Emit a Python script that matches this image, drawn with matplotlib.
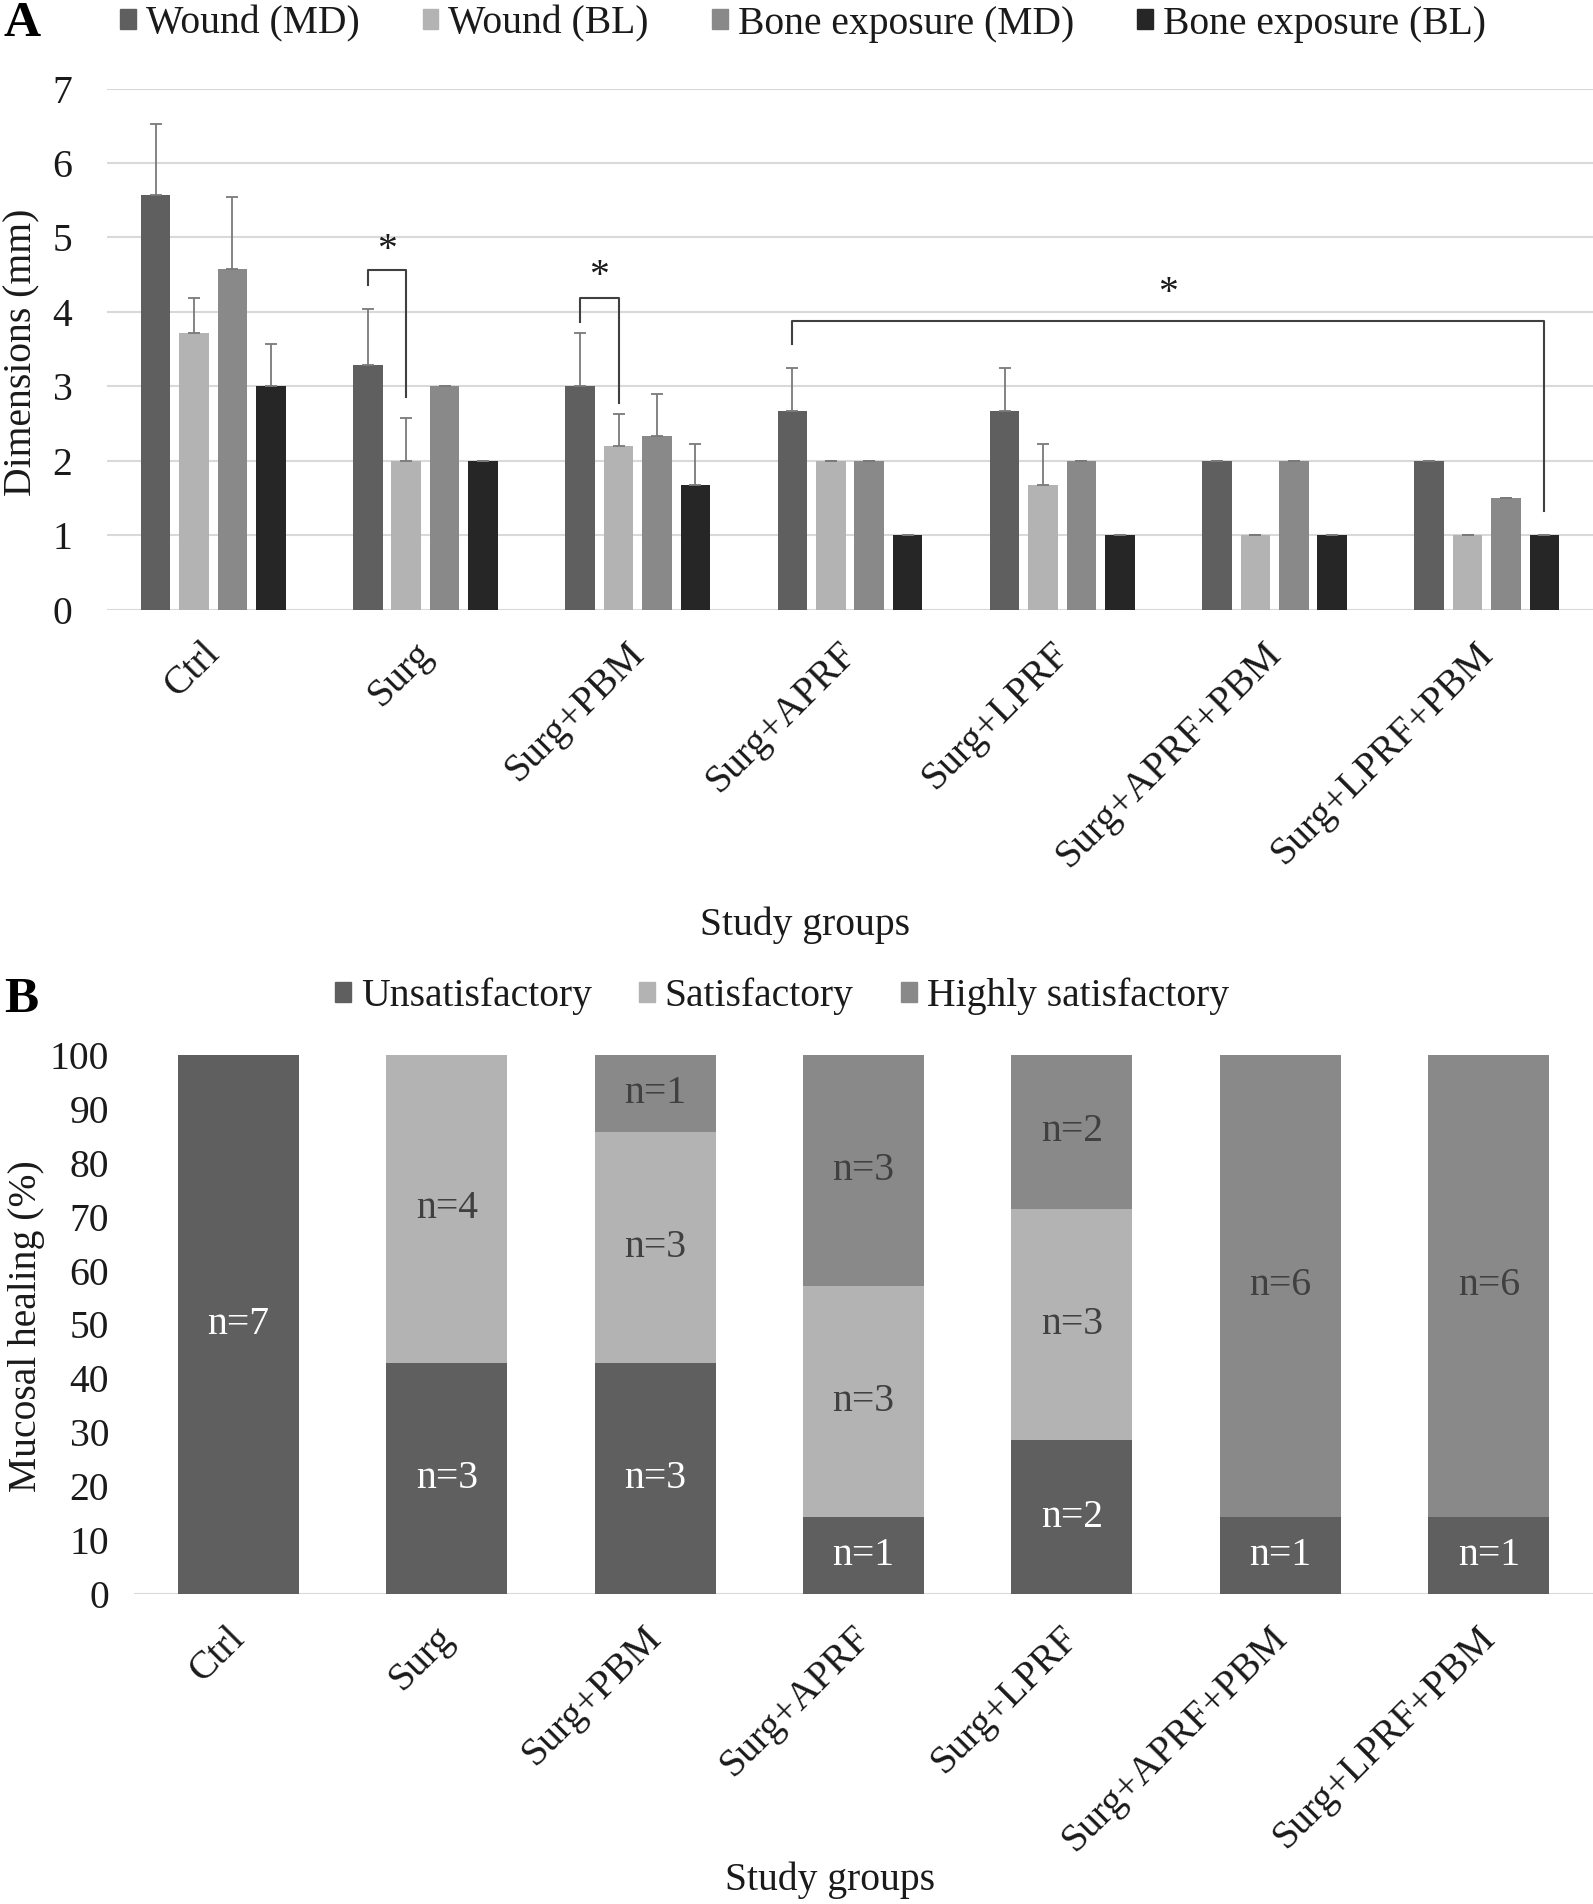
import numpy as np
import matplotlib
matplotlib.use('Agg')
import matplotlib.pyplot as plt
import matplotlib.transforms as mtrans
from matplotlib.patches import Patch

plt.rcParams['font.family'] = ['Liberation Serif', 'DejaVu Serif']

# data
groups = ['Ctrl', 'Surg', 'Surg+PBM', 'Surg+APRF', 'Surg+LPRF', 'Surg+APRF+PBM', 'Surg+LPRF+PBM']

series_a = ['Wound (MD)', 'Wound (BL)', 'Bone exposure (MD)', 'Bone exposure (BL)']
wound_md = [5.57, 3.29, 3.00, 2.67, 2.67, 2.00, 2.00]
wound_bl = [3.71, 2.00, 2.20, 2.00, 1.67, 1.00, 1.00]
bone_md = [4.57, 3.00, 2.33, 2.00, 2.00, 2.00, 1.50]
bone_bl = [3.00, 2.00, 1.67, 1.00, 1.00, 1.00, 1.00]
wound_md_err = [0.96, 0.75, 0.71, 0.57, 0.57, 0.0, 0.0]
wound_bl_err = [0.47, 0.57, 0.43, 0.0, 0.56, 0.0, 0.0]
bone_md_err = [0.97, 0.0, 0.57, 0.0, 0.0, 0.0, 0.0]
bone_bl_err = [0.57, 0.0, 0.55, 0.0, 0.0, 0.0, 0.0]

# significance brackets: (group from, series from, group to, series to, top, left foot, right foot, star y)
brackets = [
    (1, 0, 1, 1, 4.56, 4.36, 2.85, 4.82),
    (2, 0, 2, 1, 4.19, 3.86, 2.77, 4.47),
    (3, 0, 6, 3, 3.88, 3.57, 1.32, 4.24),
]

series_b = ['Unsatisfactory', 'Satisfactory', 'Highly satisfactory']
unsat_pct = [100.0, 42.86, 42.86, 14.29, 28.57, 14.29, 14.29]
sat_pct = [0.0, 57.14, 42.86, 42.86, 42.86, 0.0, 0.0]
high_pct = [0.0, 0.0, 14.29, 42.86, 28.57, 85.71, 85.71]
unsat_n = [7, 3, 3, 1, 2, 1, 1]
sat_n = [0, 4, 3, 3, 3, 0, 0]
high_n = [0, 0, 1, 3, 2, 6, 6]

cols_a = ['#5f5f5f', '#b3b3b3', '#898989', '#262626']
cols_b = ['#5f5f5f', '#b3b3b3', '#898989']
txt = '#1a1a1a'
fs = 28.5

fig = plt.figure(figsize=(15.93, 19.04), dpi=100)
W, H = 1593, 1904

def px_axes(l, t, r, b):
    return fig.add_axes([l / W, 1 - b / H, (r - l) / W, (b - t) / H])

# shift for the rotated group labels
off = mtrans.ScaledTranslation(-12 / 100, 0, fig.dpi_scale_trans)

# ---- panel A
ax = px_axes(107, 88.6, 1593, 609.5)
x = np.arange(len(groups))
bw = 0.139
step = 0.181
vals = [wound_md, wound_bl, bone_md, bone_bl]
errs = [wound_md_err, wound_bl_err, bone_md_err, bone_bl_err]
for i in range(4):
    xi = x + (i - 1.5) * step
    ax.bar(xi, vals[i], bw, color=cols_a[i], zorder=3, label=series_a[i])
    ax.errorbar(xi, vals[i], yerr=[np.zeros(len(groups)), errs[i]], fmt='none',
                ecolor='#7a7a7a', elinewidth=1.3, capsize=4, capthick=1.3, zorder=4)

for g1, s1, g2, s2, top, f1, f2, sy in brackets:
    x1 = g1 + (s1 - 1.5) * step
    x2 = g2 + (s2 - 1.5) * step
    ax.plot([x1, x1, x2, x2], [f1, top, top, f2], color='#404040', lw=1.5, zorder=5)
    ax.text((x1 + x2) / 2, sy, '*', ha='center', va='center', fontsize=fs, color=txt)

ax.set_ylim(0, 7)
ax.set_xlim(-0.5, 6.5)
ax.set_yticks(range(8))
ax.grid(axis='y', color='#d9d9d9', lw=1.5, zorder=0)
for s in ax.spines.values():
    s.set_visible(False)
ax.tick_params(length=0, labelsize=fs, labelcolor=txt)
ax.tick_params(axis='y', pad=25)
ax.tick_params(axis='x', pad=18.5)
ax.set_xticks(x)
ax.set_xticklabels(groups, rotation=45, ha='right', va='top', rotation_mode='anchor')
for lab in ax.get_xticklabels():
    lab.set_transform(lab.get_transform() + off)

fig.text(22 / W, 1 - 352 / H, 'Dimensions (mm)', rotation=90, ha='center', va='center',
         fontsize=fs, color=txt)
fig.text(805 / W, 1 - 925 / H, 'Study groups', ha='center', va='center', fontsize=fs, color=txt)
fig.text(4 / W, 1 - 24 / H, 'A', ha='left', va='center', fontsize=37, fontweight='bold', color='black')

hA = [Patch(color=c) for c in cols_a]
fig.legend(hA, series_a, loc='center', bbox_to_anchor=(803 / W, 1 - 24 / H), ncol=4,
           frameon=False, fontsize=fs, handlelength=0.4, handleheight=0.4,
           handletextpad=0.25, columnspacing=1.6, labelcolor=txt, borderpad=0)

# ---- panel B
bx = px_axes(134, 1055, 1593, 1594)
bwb = 0.58
bottoms = np.zeros(len(groups))
pcts = [unsat_pct, sat_pct, high_pct]
ns = [unsat_n, sat_n, high_n]
for i in range(3):
    bx.bar(x, pcts[i], bwb, bottom=bottoms, color=cols_b[i], zorder=3)
    for j in range(len(groups)):
        if ns[i][j] > 0:
            bx.text(x[j], bottoms[j] + pcts[i][j] / 2, 'n=%d' % ns[i][j], ha='center', va='center',
                    fontsize=fs, color='white' if i == 0 else '#404040', zorder=4)
    bottoms = bottoms + np.array(pcts[i])

bx.set_ylim(0, 100)
bx.set_xlim(-0.5, 6.5)
bx.set_yticks(range(0, 101, 10))
for s in bx.spines.values():
    s.set_visible(False)
bx.axhline(0, color='#d9d9d9', lw=1.5, zorder=2)
bx.tick_params(length=0, labelsize=fs, labelcolor=txt)
bx.tick_params(axis='y', pad=18)
bx.tick_params(axis='x', pad=18.5)
bx.set_xticks(x)
bx.set_xticklabels(groups, rotation=45, ha='right', va='top', rotation_mode='anchor')
for lab in bx.get_xticklabels():
    lab.set_transform(lab.get_transform() + off)

fig.text(27 / W, 1 - 1326 / H, 'Mucosal healing (%)', rotation=90, ha='center', va='center',
         fontsize=fs, color=txt)
fig.text(830 / W, 1 - 1880 / H, 'Study groups', ha='center', va='center', fontsize=fs, color=txt)
fig.text(4 / W, 1 - 1000 / H, 'B', ha='left', va='center', fontsize=37, fontweight='bold', color='black')

hB = [Patch(color=c) for c in cols_b]
fig.legend(hB, series_b, loc='center', bbox_to_anchor=(782 / W, 1 - 996 / H), ncol=3,
           frameon=False, fontsize=fs, handlelength=0.4, handleheight=0.4,
           handletextpad=0.25, columnspacing=1.2, labelcolor=txt, borderpad=0)

fig.savefig('out.png', dpi=100)
